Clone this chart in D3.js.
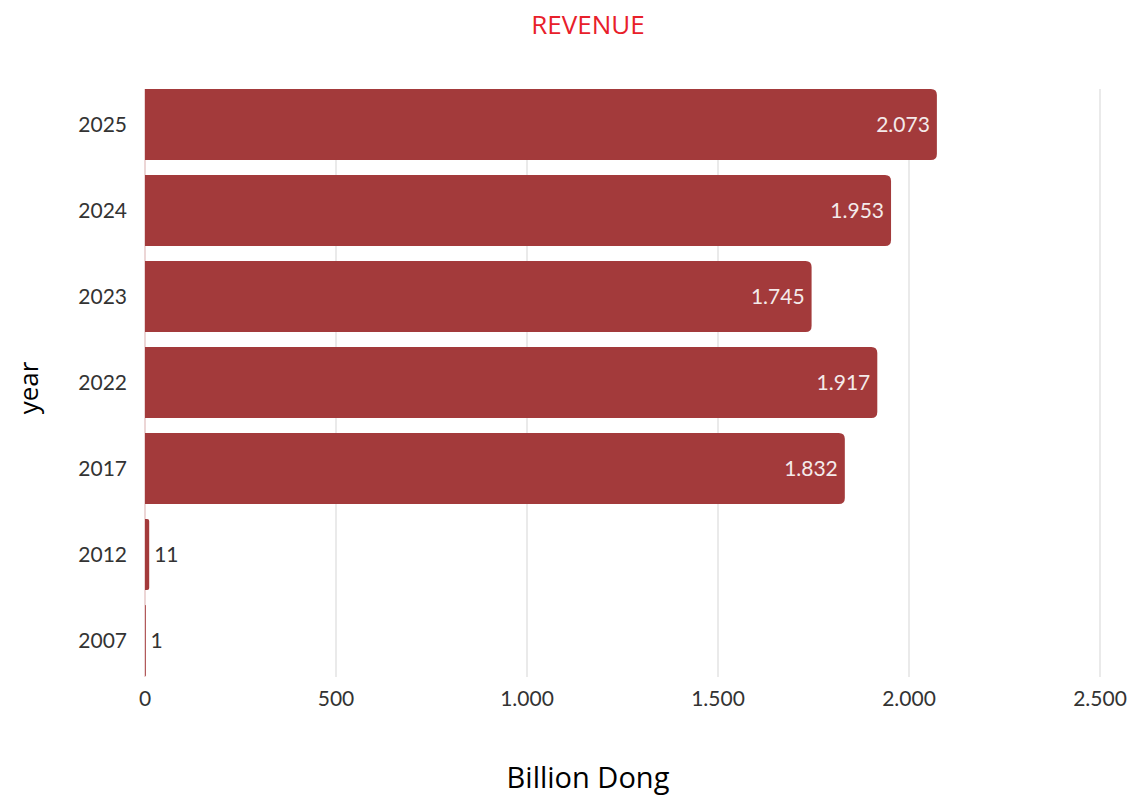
<!DOCTYPE html>
<html><head><meta charset="utf-8">
<script src="https://cdn.jsdelivr.net/npm/d3@7"></script>
<style>body{margin:0;background:#fff}svg{display:block}</style>
</head><body>
<svg id="c" width="1139" height="797"></svg>
<script>
const years = ["2025","2024","2023","2022","2017","2012","2007"];
const revenue = [2073, 1953, 1745, 1917, 1832, 11, 1];
const xTicks = [0, 500, 1000, 1500, 2000, 2500];
const title = "REVENUE";
const xTitle = "Billion Dong";
const yTitle = "year";

const svg = d3.select("#c");
const loc = d3.formatLocale({decimal:",", thousands:".", grouping:[3], currency:["",""]});
const fmt = loc.format(",d");

const x = d3.scaleLinear().domain([0, 2500]).range([145, 1100]);
const y = d3.scaleBand().domain(years).range([81.5, 683.5]).paddingInner(0.1744).paddingOuter(0.0872);
const gridTop = 89, gridBot = 677;

svg.append("text").attr("x", 588).attr("y", 34).attr("text-anchor","middle")
  .attr("font-family","Open Sans").attr("font-size",26).attr("fill","#E8202A").text(title);

// grid
svg.append("g").selectAll("line").data(xTicks).join("line")
  .attr("x1", d=>x(d)).attr("x2", d=>x(d)).attr("y1", gridTop).attr("y2", gridBot)
  .attr("stroke", d=> d===0 ? "#e6c9c9" : "#e3e3e3").attr("stroke-width", 1.5);

// x tick labels
svg.append("g").selectAll("text").data(xTicks).join("text")
  .attr("x", d=>x(d)).attr("y", 706).attr("text-anchor","middle")
  .attr("font-family","Lato").attr("font-size",21).attr("fill","#333").text(d=>fmt(d));

// y tick labels
svg.append("g").selectAll("text").data(years).join("text")
  .attr("x", 127).attr("y", d=>y(d)+y.bandwidth()/2).attr("dy","0.35em").attr("text-anchor","end")
  .attr("font-family","Lato").attr("font-size",21).attr("fill","#333").text(d=>d);

// bars with rounded right corners
function barPath(x0, x1, y0, h){
  const w = x1 - x0;
  const r = Math.min(6, w/2, h/2);
  return `M${x0},${y0} H${x1-r} Q${x1},${y0} ${x1},${y0+r} V${y0+h-r} Q${x1},${y0+h} ${x1-r},${y0+h} H${x0} Z`;
}
const data = years.map((yr,i)=>({yr, v: revenue[i]}));
svg.append("g").selectAll("path").data(data).join("path")
  .attr("d", d=>barPath(x(0), Math.max(x(d.v), x(0)+0.8), y(d.yr), y.bandwidth()))
  .attr("fill", "#A33A3B");

// value labels
svg.append("g").selectAll("text").data(data).join("text")
  .attr("x", d=> d.v > 200 ? x(d.v)-7 : x(d.v)+5)
  .attr("y", d=>y(d.yr)+y.bandwidth()/2).attr("dy","0.35em")
  .attr("text-anchor", d=> d.v > 200 ? "end" : "start")
  .attr("font-family","Lato").attr("font-size",21)
  .attr("fill", d=> d.v > 200 ? "#f4eaea" : "#333").text(d=>fmt(d.v));

svg.append("text").attr("x", 588).attr("y", 788).attr("text-anchor","middle")
  .attr("font-family","Open Sans").attr("font-size",29).attr("fill","#000").text(xTitle);
svg.append("text").attr("transform","translate(38,388) rotate(-90)").attr("text-anchor","middle")
  .attr("font-family","Open Sans").attr("font-size",26).attr("fill","#000").text(yTitle);
</script>
</body></html>
